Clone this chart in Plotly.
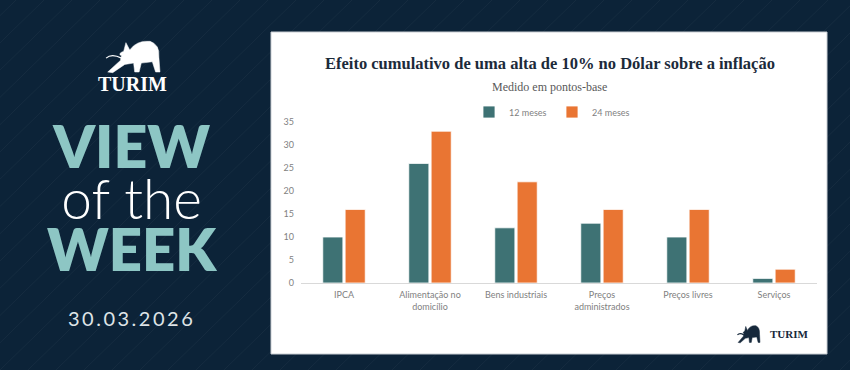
import plotly.graph_objects as go

categories = ["IPCA", "Alimentação no<br>domicílio", "Bens industriais",
              "Preços<br>administrados", "Preços livres", "Serviços"]
series_names = ["12 meses", "24 meses"]
values_12m = [10, 26, 12, 13, 10, 1]
values_24m = [16, 33, 22, 16, 16, 3]
y_ticks = [0, 5, 10, 15, 20, 25, 30, 35]

TEAL = "#3e7274"
ORANGE = "#e97533"
NAVY = "#0c2338"
MINT = "#8dc6c4"

W, H = 850, 370
L, R, T, B = 301, 817, 122, 283


def X(px):
    return (px - L) / (R - L)


def Y(py):
    return (B - py) / (B - T)


fig = go.Figure()
fig.add_trace(go.Bar(x=categories, y=values_12m, name=series_names[0],
                     marker=dict(color=TEAL, line=dict(color="#ffffff", width=0.8))))
fig.add_trace(go.Bar(x=categories, y=values_24m, name=series_names[1],
                     marker=dict(color=ORANGE, line=dict(color="#ffffff", width=0.8))))

shapes = []
# diagonal background stripes
for k in range(-20, 40):
    x0 = k * 28
    shapes.append(dict(type="line", xref="paper", yref="paper", layer="below",
                       x0=X(x0), y0=Y(H), x1=X(x0 + 380), y1=Y(0),
                       line=dict(color="rgba(255,255,255,0.045)", width=1)))
# white panel
shapes.append(dict(type="rect", xref="paper", yref="paper", layer="below",
                   x0=X(271), y0=Y(354), x1=X(827), y1=Y(32),
                   fillcolor="#ffffff", line=dict(color="#c9ced3", width=1)))


def bull(px0, py0, pw, ph, color):
    pts = [("M", 0.05, 0.97), ("L", 0.28, 0.62), ("L", 0.30, 0.48),
           ("Q", 0.22, 0.42, 0.34, 0.34), ("L", 0.38, 0.08), ("L", 0.45, 0.30),
           ("Q", 0.58, 0.0, 0.82, 0.04), ("Q", 1.0, 0.14, 0.98, 0.52),
           ("L", 1.0, 0.97), ("L", 0.92, 0.97), ("L", 0.86, 0.66),
           ("L", 0.66, 0.70), ("L", 0.62, 0.97), ("L", 0.54, 0.97),
           ("L", 0.52, 0.70), ("L", 0.36, 0.74), ("L", 0.14, 0.99)]
    parts = []
    for p in pts:
        cmd = p[0]
        coords = p[1:]
        s = []
        for i in range(0, len(coords), 2):
            s.append(f"{X(px0 + coords[i] * pw):.5f},{Y(py0 + coords[i + 1] * ph):.5f}")
        parts.append(cmd + " " + " ".join(s))
    path = " ".join(parts) + " Z"
    tail = dict(type="path", xref="paper", yref="paper",
                path=f"M {X(px0 + 0.30 * pw):.5f},{Y(py0 + 0.55 * ph):.5f} "
                     f"Q {X(px0 + 0.12 * pw):.5f},{Y(py0 + 0.40 * ph):.5f} "
                     f"{X(px0 + 0.02 * pw):.5f},{Y(py0 + 0.55 * ph):.5f}",
                line=dict(color=color, width=1.2))
    return [dict(type="path", xref="paper", yref="paper", path=path,
                 fillcolor=color, line=dict(color=color, width=0.5)), tail]


shapes += bull(105, 40, 55, 33, "#ffffff")
shapes += bull(737, 325, 23, 18, "#16283b")

big_title = ("<span style='font-size:59px;font-weight:800;color:" + MINT + "'>VIEW</span><br>"
             "<span style='font-size:55px;font-weight:300;color:#ffffff'>of the</span><br>"
             "<span style='font-size:58px;font-weight:800;color:" + MINT + "'>WEEK</span>")

annotations = [
    dict(text="<b>Efeito cumulativo de uma alta de 10% no Dólar sobre a inflação</b>",
         x=X(550), y=Y(63), xref="paper", yref="paper", showarrow=False,
         xanchor="center", yanchor="middle",
         font=dict(family="Liberation Serif", size=16.5, color="#1c2a3a")),
    dict(text="Medido em pontos-base", x=X(549), y=Y(87), xref="paper", yref="paper",
         showarrow=False, xanchor="center", yanchor="middle",
         font=dict(family="Liberation Serif", size=12, color="#595959")),
    dict(text="<b>TURIM</b>", x=X(132), y=Y(84), xref="paper", yref="paper",
         showarrow=False, xanchor="center", yanchor="middle",
         font=dict(family="Liberation Serif", size=20, color="#ffffff")),
    dict(text=big_title, x=X(132), y=Y(196), xref="paper", yref="paper",
         showarrow=False, xanchor="center", yanchor="middle", align="center",
         font=dict(family="Lato", size=39.5, color=MINT)),
    dict(text="3\u20090\u2009.\u20090\u20093\u2009.\u20092\u20090\u20092\u20096",
         x=X(130), y=Y(318), xref="paper", yref="paper",
         showarrow=False, xanchor="center", yanchor="middle",
         font=dict(family="Lato", size=20, color="#dfe4e7")),
    dict(text="<b>TURIM</b>", x=X(789), y=Y(334), xref="paper", yref="paper",
         showarrow=False, xanchor="center", yanchor="middle",
         font=dict(family="Liberation Serif", size=11, color="#16283b")),
]

fig.update_layout(
    width=W, height=H,
    margin=dict(l=L, r=W - R, t=T, b=H - B, pad=0),
    paper_bgcolor=NAVY, plot_bgcolor="rgba(0,0,0,0)",
    barmode="group", bargap=0.48, bargroupgap=0.1,
    shapes=shapes, annotations=annotations,
    showlegend=True,
    legend=dict(orientation="h", x=X(552), xanchor="center", y=Y(112), yanchor="middle",
                font=dict(family="Lato", size=9, color="#7f7f7f"),
                bgcolor="rgba(0,0,0,0)", itemwidth=30, entrywidth=38),
    font=dict(family="Lato"),
)
fig.update_xaxes(showline=True, linecolor="#d9d9d9", linewidth=1, showgrid=False,
                 tickfont=dict(family="Lato", size=9, color="#7f7f7f"), ticks="",
                 ticklabelstandoff=3)
fig.update_yaxes(range=[0, 35], tickvals=y_ticks, showgrid=False, zeroline=False,
                 showline=False, tickfont=dict(family="Lato", size=9, color="#7f7f7f"),
                 ticks="", ticklabelstandoff=6)

fig.write_html("out.html", config={"displayModeBar": False},
               post_script="document.body.style.margin='0';document.body.style.padding='0';"
                           "document.body.style.background='" + NAVY + "';")
